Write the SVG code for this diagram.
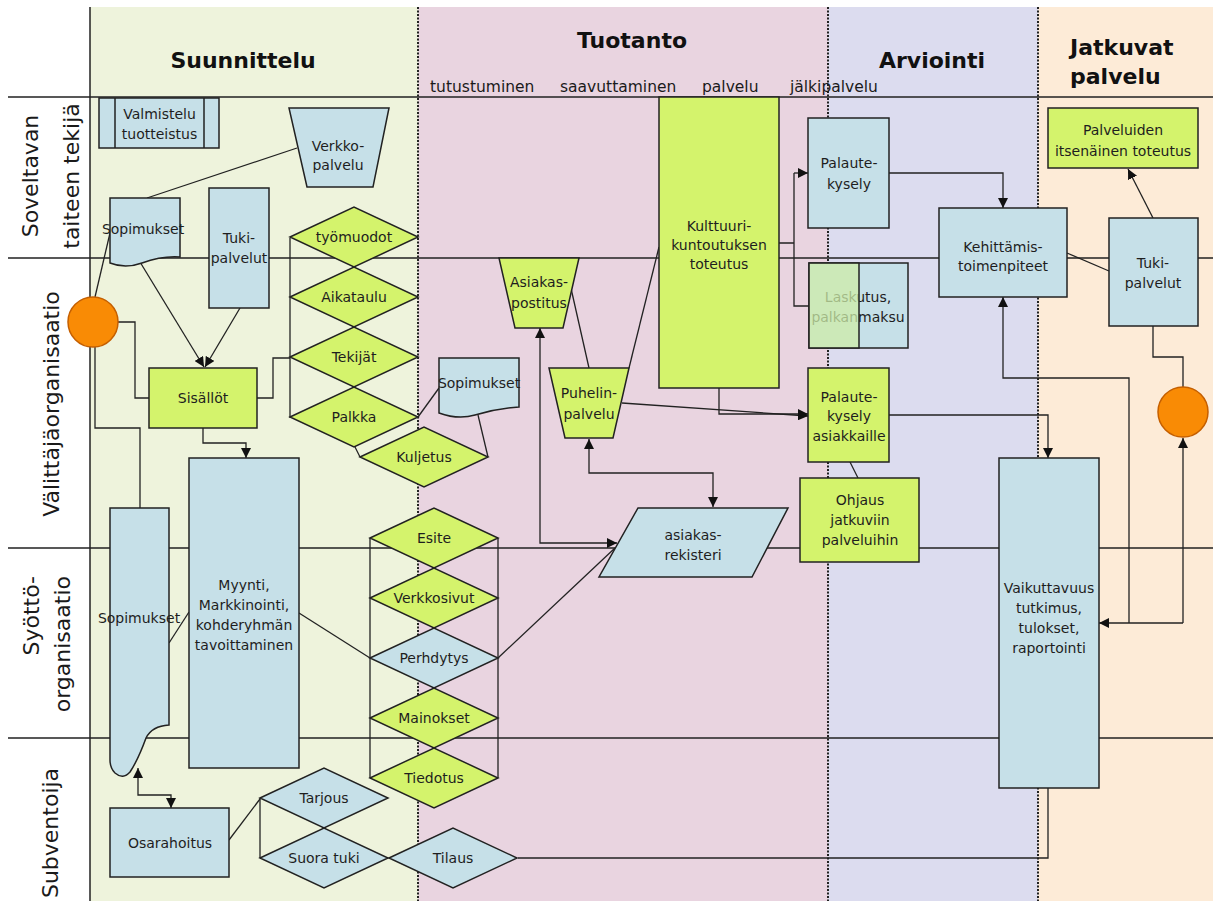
<svg xmlns="http://www.w3.org/2000/svg" width="1213" height="901" viewBox="0 0 1213 901">
  <defs>
    <style>
      .blue { fill: #c6e0e8; stroke: #222; stroke-width: 1.5; }
      .green { fill: #d4f36c; stroke: #222; stroke-width: 1.5; }
      .orange { fill: #f98b05; stroke: #c55f00; stroke-width: 1.5; }
      .t { font-family: "DejaVu Sans", Verdana, sans-serif; font-size: 14px; fill: #1e1e1e; text-anchor: middle; dominant-baseline: central; }
      .lane { font-family: "DejaVu Sans", Verdana, sans-serif; font-size: 22px; fill: #1a1a1a; }
      .head { font-family: "DejaVu Sans", Verdana, sans-serif; font-size: 22px; font-weight: bold; fill: #111; }
      .sub { font-family: "DejaVu Sans", Verdana, sans-serif; font-size: 15.5px; fill: #1a1a1a; }
      .ln { fill: none; stroke: #222; stroke-width: 1.5; }
      .div { fill: none; stroke: #222; stroke-width: 2; stroke-dasharray: 2 1.5; }
      .c { fill: none; stroke: #222; stroke-width: 1.3; }
      .a { marker-end: url(#ah); }
      .aa { marker-start: url(#ah); marker-end: url(#ah); }
    </style>
    <marker id="ah" viewBox="0 0 10 10" refX="10" refY="5" markerWidth="10" markerHeight="10" markerUnits="userSpaceOnUse" orient="auto-start-reverse">
      <path d="M0,0 L10,5 L0,10 z" fill="#111"/>
    </marker>
  </defs>

  <!-- phase columns -->
  <g id="columns">
    <rect x="0" y="0" width="1213" height="901" fill="#fff"/>
    <rect x="90" y="7" width="328" height="894" fill="#eef3dc"/>
    <rect x="418" y="7" width="410" height="894" fill="#e9d4e0"/>
    <rect x="828" y="7" width="210" height="894" fill="#dcdcef"/>
    <rect x="1038" y="7" width="175" height="894" fill="#fdebd7"/>
  </g>

  <!-- swimlane rules -->
  <g id="lanes">
    <path class="ln" d="M8,97 H1213 M8,258 H1213 M8,548 H1213 M8,738 H1213"/>
    <path class="ln" d="M90,7 V901"/>
    <path class="div" d="M418,7 V901 M828,7 V901 M1038,7 V901"/>
  </g>

  <!-- headings -->
  <g id="headings">
    <text class="head" x="243" y="68" text-anchor="middle">Suunnittelu</text>
    <text class="head" x="632" y="48" text-anchor="middle">Tuotanto</text>
    <text class="head" x="932" y="68" text-anchor="middle">Arviointi</text>
    <text class="head" x="1070" y="55">Jatkuvat</text>
    <text class="head" x="1070" y="84">palvelu</text>
    <text class="sub" x="430" y="92">tutustuminen</text>
    <text class="sub" x="560" y="92">saavuttaminen</text>
    <text class="sub" x="702" y="92">palvelu</text>
    <text class="sub" x="790" y="92">jälkipalvelu</text>
  </g>

  <!-- lane labels -->
  <g id="lane-labels">
    <text class="lane" transform="translate(38,176) rotate(-90)" text-anchor="middle">Soveltavan</text>
    <text class="lane" transform="translate(79,176) rotate(-90)" text-anchor="middle">taiteen tekijä</text>
    <text class="lane" transform="translate(59,404) rotate(-90)" text-anchor="middle">Välittäjäorganisaatio</text>
    <text class="lane" transform="translate(39,576) rotate(-90)" text-anchor="end">Syöttö-</text>
    <text class="lane" transform="translate(70,576) rotate(-90)" text-anchor="end">organisaatio</text>
    <text class="lane" transform="translate(58,833) rotate(-90)" text-anchor="middle">Subventoija</text>
  </g>

  <!-- connectors -->
  <g id="connectors">
    <path class="c" d="M147,198 L297,148"/>
    <path class="c" d="M95,297 L110,233"/>
    <path class="c a" d="M140,262 L204,367"/>
    <path class="c a" d="M240,308 L205,367"/>
    <path class="c" d="M118,322 H135 V398 H149"/>
    <path class="c" d="M95,347 V428 H140 V508"/>
    <path class="c" d="M257,398 H273 V358 H290"/>
    <path class="c a" d="M203,428 V443 H246 V458"/>
    <path class="c" d="M290,238 V418"/>
    <path class="c" d="M355,447 L360,457"/>
    <path class="c" d="M418,417 L439,388"/>
    <path class="c" d="M478,415 L488,457"/>
    <path class="c" d="M169,643 L189,612"/>
    <path class="c" d="M299,613 L370,658"/>
    <path class="c" d="M370,538 V778 M498,538 V778"/>
    <path class="c" d="M498,658 L615,548"/>
    <path class="c aa" d="M540,328 V543 H617"/>
    <path class="c aa" d="M589,439 V473 H713 V507"/>
    <path class="c" d="M568,275 L589,368"/>
    <path class="c" d="M629,368 L659,247"/>
    <path class="c a" d="M622,403 L808,416"/>
    <path class="c a" d="M719,388 V414 H808"/>
    <path class="c" d="M779,243 H794 M794,173 V306 H809"/>
    <path class="c a" d="M794,173 H808"/>
    <path class="c a" d="M889,173 H1003 V208"/>
    <path class="c" d="M1067,253 L1109,271"/>
    <path class="c a" d="M1153,218 L1128,169"/>
    <path class="c" d="M1153,326 V357 H1183 V387"/>
    <path class="c a" d="M1183,623 H1099"/>
    <path class="c a" d="M1183,623 V438"/>
    <path class="c a" d="M1129,623 V378 H1003 V297"/>
    <path class="c a" d="M889,415 H1048 V458"/>
    <path class="c" d="M850,462 L858,478"/>
    <path class="c" d="M518,858 H1048 V788"/>
    <path class="c aa" d="M138,768 V795 H171 V808"/>
    <path class="c" d="M229,840 L260,799"/>
    <path class="c" d="M260,798 V858"/>
  </g>

  <!-- nodes -->
  <g id="valmistelu">
    <rect class="blue" x="99" y="98" width="120" height="50"/>
    <path class="ln" d="M115,98 V148 M204,98 V148"/>
    <text class="t" x="159.5" y="114">Valmistelu</text>
    <text class="t" x="159.5" y="134">tuotteistus</text>
  </g>
  <g id="verkkopalvelu">
    <polygon class="blue" points="289,108 389,108 373,187 307,187"/>
    <text class="t" x="338" y="146">Verkko-</text>
    <text class="t" x="338" y="165">palvelu</text>
  </g>
  <g id="sopimukset-1">
    <path class="blue" d="M110,198 H180 V257 C166,256 153,259 142,263 C131,267 120,267 110,263 Z"/>
    <text class="t" x="143" y="229">Sopimukset</text>
  </g>
  <g id="tukipalvelut-1">
    <rect class="blue" x="209" y="188" width="60" height="120"/>
    <text class="t" x="239" y="238">Tuki-</text>
    <text class="t" x="239" y="258">palvelut</text>
  </g>
  <g id="circle-1">
    <circle class="orange" cx="93" cy="322" r="25"/>
  </g>
  <g id="sisallot">
    <rect class="green" x="149" y="368" width="108" height="60"/>
    <text class="t" x="203" y="398">Sisällöt</text>
  </g>
  <g id="tyomuodot">
    <polygon class="green" points="290,237 354,207 418,237 354,267"/>
    <text class="t" x="354" y="237">työmuodot</text>
  </g>
  <g id="aikataulu">
    <polygon class="green" points="290,297 354,267 418,297 354,327"/>
    <text class="t" x="354" y="297">Aikataulu</text>
  </g>
  <g id="tekijat">
    <polygon class="green" points="290,357 354,327 418,357 354,387"/>
    <text class="t" x="354" y="357">Tekijät</text>
  </g>
  <g id="palkka">
    <polygon class="green" points="290,417 354,387 418,417 354,447"/>
    <text class="t" x="354" y="417">Palkka</text>
  </g>
  <g id="kuljetus">
    <polygon class="green" points="360,457 424,427 488,457 424,487"/>
    <text class="t" x="424" y="457">Kuljetus</text>
  </g>
  <g id="sopimukset-2">
    <path class="blue" d="M439,358 H519 V407 C501,408 488,411 475,415 C462,419 450,417 439,413 Z"/>
    <text class="t" x="479" y="383">Sopimukset</text>
  </g>
  <g id="sopimukset-3">
    <path class="blue" d="M110,508 H169 V725 Q152,726 146,738 Q138,760 130,772 Q123,780 115,773 Q110,768 110,760 Z"/>
    <text class="t" x="139" y="618">Sopimukset</text>
  </g>
  <g id="myynti">
    <rect class="blue" x="189" y="458" width="110" height="310"/>
    <text class="t" x="244" y="585">Myynti,</text>
    <text class="t" x="244" y="605">Markkinointi,</text>
    <text class="t" x="244" y="625">kohderyhmän</text>
    <text class="t" x="244" y="645">tavoittaminen</text>
  </g>
  <g id="esite">
    <polygon class="green" points="370,538 434,508 498,538 434,568"/>
    <text class="t" x="434" y="538">Esite</text>
  </g>
  <g id="verkkosivut">
    <polygon class="green" points="370,598 434,568 498,598 434,628"/>
    <text class="t" x="434" y="598">Verkkosivut</text>
  </g>
  <g id="perhdytys">
    <polygon class="blue" points="370,658 434,628 498,658 434,688"/>
    <text class="t" x="434" y="658">Perhdytys</text>
  </g>
  <g id="mainokset">
    <polygon class="green" points="370,718 434,688 498,718 434,748"/>
    <text class="t" x="434" y="718">Mainokset</text>
  </g>
  <g id="tiedotus">
    <polygon class="green" points="370,778 434,748 498,778 434,808"/>
    <text class="t" x="434" y="778">Tiedotus</text>
  </g>
  <g id="osarahoitus">
    <rect class="blue" x="110" y="808" width="119" height="69"/>
    <text class="t" x="170" y="843">Osarahoitus</text>
  </g>
  <g id="tarjous">
    <polygon class="blue" points="260,798 324,768 388,798 324,828"/>
    <text class="t" x="324" y="798">Tarjous</text>
  </g>
  <g id="suora-tuki">
    <polygon class="blue" points="260,858 324,828 388,858 324,888"/>
    <text class="t" x="324" y="858">Suora tuki</text>
  </g>
  <g id="tilaus">
    <polygon class="blue" points="389,858 453,828 517,858 453,888"/>
    <text class="t" x="453" y="858">Tilaus</text>
  </g>
  <g id="asiakaspostitus">
    <polygon class="green" points="499,258 579,258 563,328 515,328"/>
    <text class="t" x="539" y="282">Asiakas-</text>
    <text class="t" x="539" y="303">postitus</text>
  </g>
  <g id="puhelinpalvelu">
    <polygon class="green" points="549,368 629,368 613,438 565,438"/>
    <text class="t" x="589" y="393">Puhelin-</text>
    <text class="t" x="589" y="414">palvelu</text>
  </g>
  <g id="asiakasrekisteri">
    <polygon class="blue" points="638,508 788,508 752,577 599,577"/>
    <text class="t" x="693" y="535">asiakas-</text>
    <text class="t" x="693" y="555">rekisteri</text>
  </g>
  <g id="kulttuurikuntoutus">
    <rect class="green" x="659" y="97" width="120" height="291"/>
    <text class="t" x="719" y="226">Kulttuuri-</text>
    <text class="t" x="719" y="245">kuntoutuksen</text>
    <text class="t" x="719" y="264">toteutus</text>
  </g>
  <g id="palautekysely-1">
    <rect class="blue" x="808" y="118" width="81" height="110"/>
    <text class="t" x="849" y="163">Palaute-</text>
    <text class="t" x="849" y="184">kysely</text>
  </g>
  <g id="laskutus">
    <rect class="blue" x="809" y="263" width="99" height="85"/>
    <text class="t" x="858" y="297">Laskutus,</text>
    <text class="t" x="858" y="317">palkanmaksu</text>
    <rect x="809" y="263" width="50" height="85" fill="#cdeca8" fill-opacity="0.75" stroke="#222" stroke-width="1.5"/>
  </g>
  <g id="palautekysely-2">
    <rect class="green" x="808" y="368" width="81" height="94"/>
    <text class="t" x="849" y="397">Palaute-</text>
    <text class="t" x="849" y="416">kysely</text>
    <text class="t" x="849" y="436">asiakkaille</text>
  </g>
  <g id="ohjaus">
    <rect class="green" x="800" y="478" width="119" height="84"/>
    <text class="t" x="860" y="500">Ohjaus</text>
    <text class="t" x="860" y="520">jatkuviin</text>
    <text class="t" x="860" y="540">palveluihin</text>
  </g>
  <g id="kehittamistoimenpiteet">
    <rect class="blue" x="939" y="208" width="128" height="89"/>
    <text class="t" x="1003" y="247">Kehittämis-</text>
    <text class="t" x="1003" y="266">toimenpiteet</text>
  </g>
  <g id="vaikuttavuus">
    <rect class="blue" x="999" y="458" width="100" height="330"/>
    <text class="t" x="1049" y="588">Vaikuttavuus</text>
    <text class="t" x="1049" y="608">tutkimus,</text>
    <text class="t" x="1049" y="628">tulokset,</text>
    <text class="t" x="1049" y="648">raportointi</text>
  </g>
  <g id="palveluiden-toteutus">
    <rect class="green" x="1048" y="108" width="150" height="60"/>
    <text class="t" x="1123" y="130">Palveluiden</text>
    <text class="t" x="1123" y="151">itsenäinen toteutus</text>
  </g>
  <g id="tukipalvelut-2">
    <rect class="blue" x="1109" y="218" width="89" height="108"/>
    <text class="t" x="1153" y="263">Tuki-</text>
    <text class="t" x="1153" y="283">palvelut</text>
  </g>
  <g id="circle-2">
    <circle class="orange" cx="1183" cy="412" r="25"/>
  </g>
</svg>
